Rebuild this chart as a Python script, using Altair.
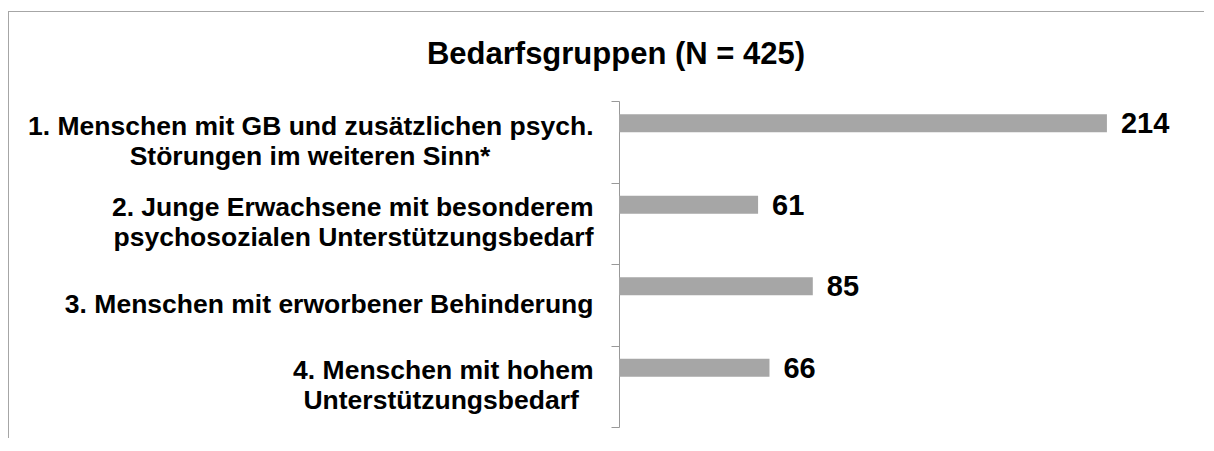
import altair as alt
import pandas as pd

# ---- data ----
NB = "\u00a0"
ZW = "\u200b"
categories = [
    "1. Menschen mit GB und zusätzlichen psych.|Störungen im weiteren Sinn*" + NB * 14 + ZW,
    "2. Junge Erwachsene mit besonderem|psychosozialen Unterstützungsbedarf",
    "3. Menschen mit erworbener Behinderung",
    "4. Menschen mit hohem|Unterstützungsbedarf" + NB * 2 + ZW,
]
values = [214, 61, 85, 66]
title_text = "Bedarfsgruppen (N = 425)"

df = pd.DataFrame({"cat": categories, "value": values})

FONT = "Liberation Sans"

y_enc = alt.Y(
    "cat:N",
    sort=categories,
    title=None,
    scale=alt.Scale(paddingInner=0, paddingOuter=0),
    axis=alt.Axis(
        domainColor="#999999",
        tickColor="#999999",
        tickSize=8,
        tickBand="extent",
        labelPadding=18,
        labelFont=FONT,
        labelFontSize=26.5,
        labelFontWeight="bold",
        labelColor="black",
        labelLineHeight=30,
        labelLimit=0,
        labelAlign="right",
        labelBaseline="middle",
        labelOffset={"condition": {"test": "indexof(datum.label, '|') >= 0", "value": -15.5}, "value": 0},
        labelExpr="split(datum.label, '|')",
        grid=False,
    ),
)
x_enc = alt.X("value:Q", scale=alt.Scale(domain=[0, 250]), axis=None)

base = alt.Chart(df)
bars = base.mark_bar(color="#A6A6A6", size=18, yOffset=-18.5).encode(y=y_enc, x=x_enc)
texts = base.mark_text(
    align="left", baseline="middle", dx=14, dy=-17.5,
    font=FONT, fontSize=29, fontWeight="bold", color="black",
).encode(y=y_enc, x=x_enc, text="value:Q")

frame_df = pd.DataFrame({"a": [0]})
frame_top = alt.Chart(frame_df).mark_rule(color="#A6A6A6", strokeWidth=1).encode(
    x=alt.value(-611), x2=alt.value(600), y=alt.value(-89.5)
)
frame_left = alt.Chart(frame_df).mark_rule(color="#A6A6A6", strokeWidth=1).encode(
    x=alt.value(-610.5), y=alt.value(-90), y2=alt.value(360)
)

chart = alt.layer(frame_top, frame_left, bars, texts).properties(
    width=570,
    height=326,
    padding={"left": 611, "top": 93, "right": 15, "bottom": 11},
    autosize=alt.AutoSizeParams(type="none"),
    background="white",
    title=alt.Title(
        title_text, font=FONT, fontSize=31, fontWeight="bold", color="black",
        anchor="middle", dx=-288, offset=-60,
    ),
).configure_view(stroke=None)

chart.save("out.html", embed_options={"renderer": "svg", "actions": False})
